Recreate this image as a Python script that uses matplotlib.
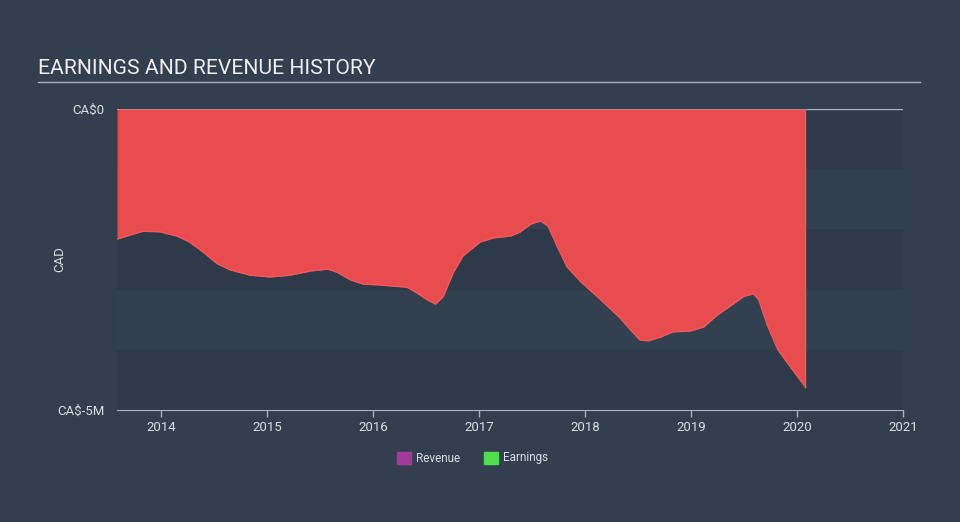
import numpy as np
import matplotlib.pyplot as plt

# earnings history (CAD millions)
years = [2013.585, 2013.83, 2013.99, 2014.15, 2014.27, 2014.40, 2014.53, 2014.65,
         2014.84, 2015.03, 2015.22, 2015.41, 2015.57, 2015.66, 2015.79, 2015.91,
         2016.04, 2016.32, 2016.42, 2016.51, 2016.59, 2016.66, 2016.76, 2016.85,
         2017.01, 2017.14, 2017.30, 2017.39, 2017.49, 2017.58, 2017.65, 2017.74,
         2017.83, 2017.96, 2018.15, 2018.33, 2018.43, 2018.52, 2018.60, 2018.71,
         2018.83, 2018.99, 2019.12, 2019.25, 2019.38, 2019.50, 2019.59, 2019.64,
         2019.72, 2019.82, 2019.94, 2020.08]
earnings = [-2.16, -2.03, -2.04, -2.11, -2.21, -2.38, -2.57, -2.67,
            -2.76, -2.79, -2.76, -2.69, -2.66, -2.71, -2.84, -2.91,
            -2.92, -2.96, -3.06, -3.17, -3.24, -3.12, -2.71, -2.44,
            -2.21, -2.14, -2.11, -2.04, -1.91, -1.86, -1.94, -2.29,
            -2.62, -2.87, -3.17, -3.47, -3.67, -3.84, -3.85, -3.79,
            -3.70, -3.69, -3.62, -3.42, -3.26, -3.11, -3.07, -3.17,
            -3.59, -4.00, -4.29, -4.62]

xticks = [2014, 2015, 2016, 2017, 2018, 2019, 2020, 2021]
yticks = [0, -5]
yticklabels = ["CA\\$0", "CA\\$-5M"]

bg = "#333f4f"
txt = "#d9dde3"
plt.rcParams['font.family'] = ['Roboto', 'DejaVu Sans']

fig = plt.figure(figsize=(9.6, 5.22), dpi=100, facecolor=bg)
ax = fig.add_axes([117 / 960, 1 - 410 / 522, 786 / 960, 301 / 522])
ax.set_facecolor(bg)

# alternating horizontal bands
band_cols = ["#2e3a4a", "#334050", "#2e3a4a", "#334050", "#2e3a4a"]
for i, c in enumerate(band_cols):
    ax.axhspan(-i, -i - 1, color=c, lw=0, zorder=0)

ax.fill_between(years, 0, earnings, color="#e84c4f", lw=0, zorder=2)
ax.plot(years, earnings, color="#f05a5c", lw=1, zorder=3, solid_joinstyle='round')
ax.plot([years[-1], years[-1]], [0, earnings[-1]], color="#f05a5c", lw=1, zorder=3)
ax.axhline(0, color="#a9b3bf", lw=1, zorder=1)

ax.set_xlim(2013.585, 2021.0)
ax.set_ylim(-5, 0)
ax.set_xticks(xticks)
ax.set_xticklabels([str(y) for y in xticks])
ax.set_yticks(yticks)
ax.set_yticklabels(yticklabels)
ax.tick_params(axis='x', colors="#a9b3bf", labelcolor=txt, labelsize=9.5,
               length=5, width=1, direction='out', pad=3)
ax.tick_params(axis='y', length=0, labelcolor=txt, labelsize=9.5, pad=9)
for s in ['top', 'left', 'right']:
    ax.spines[s].set_visible(False)
ax.spines['bottom'].set_color("#a9b3bf")
ax.set_ylabel("CAD", color=txt, fontsize=9.5)
ax.yaxis.set_label_coords((66 - 117) / 786, 0.5)

fig.text(38 / 960, 1 - 68 / 522, "EARNINGS AND REVENUE HISTORY", color="#eceef1",
         fontsize=15.2, va='center', ha='left')
fig.add_artist(plt.Line2D([38 / 960, 920 / 960], [1 - 82 / 522, 1 - 82 / 522],
                          color="#a9b3bf", lw=1))

# legend
legend_items = [("Revenue", "#a13a98", 397), ("Earnings", "#4ee04e", 484)]
for name, col, px in legend_items:
    fig.patches.append(plt.Rectangle((px / 960, 1 - 464 / 522), 14 / 960, 12 / 522,
                                     transform=fig.transFigure, color=col))
    fig.text((px + 19) / 960, 1 - 458 / 522, name, color=txt, fontsize=8.5,
             va='center', ha='left')

fig.savefig("out.png", dpi=100, facecolor=bg)
